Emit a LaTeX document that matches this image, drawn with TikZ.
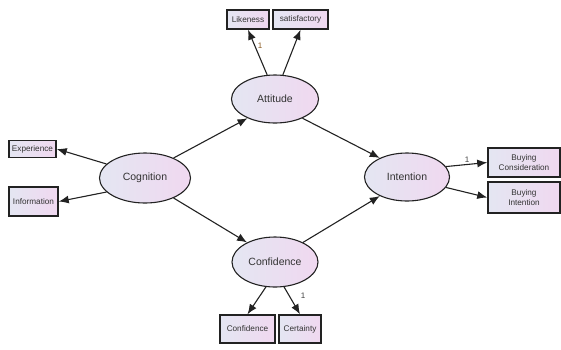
\documentclass[tikz,border=0pt]{standalone}
\usepackage{fontspec}
\setmainfont{Liberation Sans}
\usetikzlibrary{arrows.meta,shapes.geometric}
\definecolor{lft}{HTML}{E4E6F2}
\definecolor{rgt}{HTML}{F0D8F0}
\definecolor{edge}{HTML}{222222}
\definecolor{onebrown}{HTML}{8A5A20}
\tikzset{
  latent/.style={ellipse, draw=edge, line width=1.1pt, left color=lft, right color=rgt, inner sep=0pt, font=\fontsize{10.5}{12}\selectfont, text=black!80},
  obsbox/.style={rectangle, draw=edge, line width=1.5pt, left color=lft, right color=rgt, inner sep=0pt, font=\fontsize{8.2}{9.4}\selectfont, text=black!80, align=center},
  conn/.style={-{Latex[length=10pt,width=8pt]}, line width=1.1pt, draw=edge},
  lbl/.style={font=\fontsize{8}{9}\selectfont, text=black!75}
}
\begin{document}
\begin{tikzpicture}[x=1pt,y=-1pt]
\useasboundingbox (0,0) rectangle (561,349);
% latent variables
\node[latent, minimum width=87pt, minimum height=48pt] (att) at (275,99) {Attitude};
\node[latent, minimum width=91pt, minimum height=50pt] (cog) at (145,178) {Cognition};
\node[latent, minimum width=85pt, minimum height=48pt] (int) at (407,177) {Intention};
\node[latent, minimum width=86pt, minimum height=50pt] (con) at (275,262) {Confidence};
% observed variables
\node[obsbox, minimum width=42pt, minimum height=19pt] (lik) at (248,19.5) {Likeness};
\node[obsbox, minimum width=55pt, minimum height=19pt] (sat) at (300.5,19.5) {satisfactory};
\node[obsbox, minimum width=47pt, minimum height=17pt] (exp) at (32.5,149) {Experience};
\node[obsbox, minimum width=49pt, minimum height=29pt] (inf) at (33.5,201.5) {Information};
\node[obsbox, minimum width=72pt, minimum height=29pt] (bc) at (524,162.5) {Buying\\Consideration};
\node[obsbox, minimum width=72pt, minimum height=31pt] (bi) at (524,197.5) {Buying\\Intention};
\node[obsbox, minimum width=55pt, minimum height=28pt] (cbox) at (247.5,329) {Confidence};
\node[obsbox, minimum width=42pt, minimum height=28pt] (cer) at (300,329) {Certainty};
% connectors
\draw[conn] (att.108) -- (lik.south);
\draw[conn] (att.72) -- (sat.south);
\draw[conn] (cog.160) -- (exp.east);
\draw[conn] (cog.200) -- (inf.east);
\draw[conn] (cog.35) -- (att.215);
\draw[conn] (cog.-35) -- (con.145);
\draw[conn] (att.-35) -- (int.145);
\draw[conn] (con.35) -- (int.215);
\draw[conn] (int.15) -- (bc.west);
\draw[conn] (int.-15) -- (bi.west);
\draw[conn] (con.250) -- (cbox.north);
\draw[conn] (con.-70) -- (cer.north);
% labels
\node[lbl, text=onebrown] (l1) at (260,46) {1};
\node[lbl] (l2) at (467,160) {1};
\node[lbl] (l3) at (303,296) {1};
\end{tikzpicture}
\end{document}
